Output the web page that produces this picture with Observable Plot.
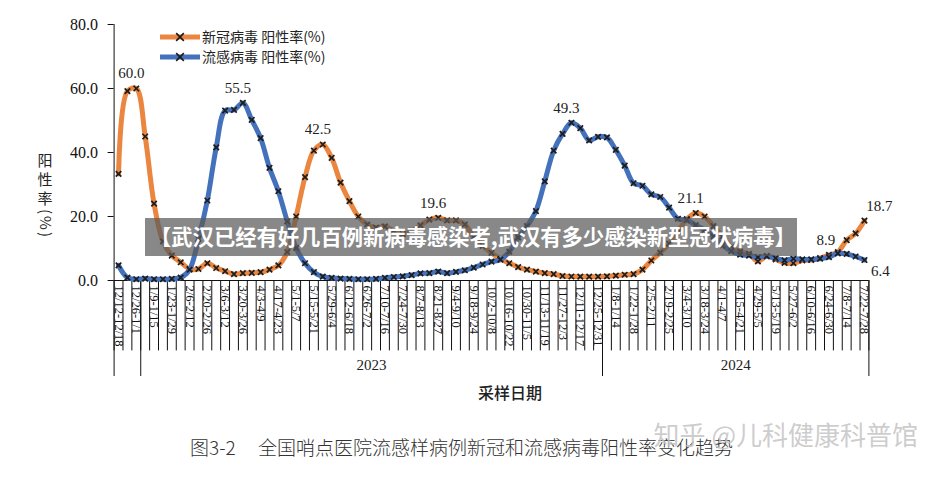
<!DOCTYPE html>
<html>
<head>
<meta charset="utf-8">
<script src="https://cdn.jsdelivr.net/npm/d3@7"></script>
<script src="https://cdn.jsdelivr.net/npm/@observablehq/plot@0.6"></script>
<style>
  body { margin: 0; background: #fff; }
  #chart svg { display: block; }
</style>
</head>
<body>
<div id="chart"></div>
<script>
// Weekly sentinel-hospital positivity (%), 2022-12-12 week through 2024-07-22 week.
const tickLabels = [
  "12/12-12/18", "12/26-1/1", "1/9-1/15", "1/23-1/29", "2/6-2/12", "2/20-2/26",
  "3/6-3/12", "3/20-3/26", "4/3-4/9", "4/17-4/23", "5/1-5/7", "5/15-5/21",
  "5/29-6/4", "6/12-6/18", "6/26-7/2", "7/10-7/16", "7/24-7/30", "8/7-8/13",
  "8/21-8/27", "9/4-9/10", "9/18-9/24", "10/2-10/8", "10/16-10/22", "10/30-11/5",
  "11/13-11/19", "11/27-12/3", "12/11-12/17", "12/25-12/31", "1/8-1/14", "1/22-1/28",
  "2/5-2/11", "2/19-2/25", "3/4-3/10", "3/18-3/24", "4/1-4/7", "4/15-4/21",
  "4/29-5/5", "5/13-5/19", "5/27-6/2", "6/10-6/16", "6/24-6/30", "7/8-7/14", "7/22-7/28"
];

// COVID-19 positivity
const covid = [
  33.3, 59.2, 60.0, 45.0, 24.0, 12.2, 7.8, 5.7, 3.6, 3.6,
  5.4, 3.9, 2.9, 2.0, 2.3, 2.4, 2.6, 3.4, 4.7, 8.9,
  20.0, 32.3, 40.6, 42.5, 38.3, 30.6, 24.8, 20.0, 17.5, 16.5,
  16.9, 15.5, 14.5, 15.5, 17.2, 19.0, 19.6, 18.8, 18.8, 17.5,
  13.5, 10.8, 8.6, 6.8, 5.4, 4.2, 3.4, 2.8, 2.3, 2.0,
  1.4, 1.25, 1.2, 1.2, 1.2, 1.3, 1.5, 1.8, 2.0, 3.4,
  6.25, 8.7, 11.5, 15.3, 19.2, 21.1, 20.0, 17.0, 13.8, 10.4,
  9.0, 8.3, 6.0, 7.6, 6.6, 5.5, 5.4, 6.25, 6.4, 7.0,
  8.0, 8.9, 12.6, 14.7, 18.7
];

// Influenza positivity
const flu = [
  4.7, 0.9, 0.4, 0.6, 0.4, 0.4, 0.5, 0.9, 3.4, 13.0,
  25.0, 41.6, 53.1, 53.3, 55.5, 50.2, 44.5, 35.2, 27.9, 18.5,
  10.2, 5.4, 2.6, 1.2, 0.8, 0.6, 0.5, 0.4, 0.4, 0.5,
  0.8, 1.1, 1.3, 1.7, 2.2, 2.3, 2.8, 2.3, 2.7, 3.2,
  4.0, 5.0, 5.9, 6.5, 9.0, 13.5, 17.0, 21.7, 31.0, 40.6,
  45.8, 49.3, 47.6, 43.8, 44.9, 44.7, 40.8, 35.9, 30.4, 29.6,
  26.9, 26.1, 22.8, 19.3, 18.9, 17.3, 15.8, 13.8, 11.0, 9.2,
  8.1, 7.8, 7.3, 7.6, 7.0, 6.3, 6.8, 6.6, 6.6, 6.8,
  7.3, 8.5, 8.3, 7.5, 6.4
];

// Weeks whose values are printed on the chart
const covidCallouts = [2, 23, 36, 65, 81, 84];
const fluCallouts = [14, 51, 84];

// Year groups on the category axis (first/last week index)
const yearGroups = [
  { year: "", first: 0, last: 2 },
  { year: "2023", first: 3, last: 54 },
  { year: "2024", first: 55, last: 84 }
];

const seriesNames = ["新冠病毒 阳性率(%)", "流感病毒 阳性率(%)"];
const yTicks = [0, 20, 40, 60, 80];

const ORANGE = "#EA863F";
const BLUE = "#4471BB";
const MARK = "#1d1d1d";
const SERIF = "'Liberation Serif', 'Times New Roman', serif";
const SANS = "'Noto Sans CJK SC', 'Noto Sans', sans-serif";

const n = covid.length;
const rows = d3.range(n).map(i => ({ i, covid: covid[i], flu: flu[i] }));
const boundaries = d3.range(n + 1).map(k => k - 0.5);
const yearEdges = [-0.5, ...yearGroups.map(g => g.last + 0.5)];
const ticks = tickLabels.map((label, k) => ({ i: k * 2, label }));
const fmt = d3.format(".1f");

// Printed values sit above-left of their point; the final week's values sit to the right
const callouts = [
  ...covidCallouts.map(i => ({ i, v: covid[i], s: "covid" })),
  ...fluCallouts.map(i => ({ i, v: flu[i], s: "flu" }))
].map(d => ({
  ...d,
  place: d.i === n - 1 ? (d.s === "covid" ? "endAbove" : "endBelow") : d.i === 81 ? "left" : "above"
}));
const placeOffsets = {
  above: { dx: -5, dy: -15 },
  left: { dx: -12, dy: -12 },
  endAbove: { dx: 15, dy: -14 },
  endBelow: { dx: 16, dy: 11 }
};

const calloutMarks = Object.entries(placeOffsets).map(([place, off]) =>
  Plot.text(callouts.filter(d => d.place === place), {
    x: "i", y: "v", text: d => fmt(d.v),
    dx: off.dx, dy: off.dy,
    fontFamily: SERIF, fontSize: 15, fill: "#222"
  })
);

const chart = Plot.plot({
  width: 942,
  height: 477,
  marginLeft: 113.6,
  marginRight: 73.6,
  marginTop: 24,
  marginBottom: 197,
  x: { domain: [-0.5, n - 0.5], axis: null },
  y: { domain: [0, 80], axis: null },
  style: { background: "#fff", overflow: "visible" },
  marks: [
    Plot.axisY({
      ticks: yTicks, tickFormat: fmt, tickSize: 6, tickPadding: 10,
      fontSize: 16, fontFamily: SERIF, color: "#111", stroke: "#111"
    }),
    Plot.ruleX([-0.5], { y1: 0, y2: 80, stroke: "#111" }),
    Plot.ruleY([0], { x1: -0.5, x2: n - 0.5, stroke: "#111" }),
    // week separators below the axis
    Plot.ruleX(boundaries, { y1: 0, y2: -22, stroke: "#111", strokeWidth: 1 }),
    // year separators reach lower
    Plot.ruleX(yearEdges, { y1: 0, y2: -30, stroke: "#111", strokeWidth: 1 }),
    Plot.text(ticks, {
      x: "i", y: 0, text: "label", rotate: 90, textAnchor: "start", lineAnchor: "middle",
      fontFamily: SERIF, fontSize: 12.5, fill: "#111"
    }),
    Plot.text(yearGroups.filter(g => g.year), {
      x: g => (g.first + g.last) / 2, y: -26.5, text: "year",
      fontFamily: SERIF, fontSize: 15, fill: "#222"
    }),
    // series: COVID first, influenza drawn over it
    Plot.line(rows, { x: "i", y: "covid", stroke: ORANGE, strokeWidth: 5, curve: "catmull-rom" }),
    Plot.dot(rows, { x: "i", y: "covid", symbol: "times", r: 2.6, stroke: MARK, strokeWidth: 1.7 }),
    Plot.line(rows, { x: "i", y: "flu", stroke: BLUE, strokeWidth: 5, curve: "catmull-rom" }),
    Plot.dot(rows, { x: "i", y: "flu", symbol: "times", r: 2.6, stroke: MARK, strokeWidth: 1.7 }),
    ...calloutMarks
  ]
});

document.getElementById("chart").appendChild(chart);

// Tick labels: start a few pixels below the axis
d3.select(chart).selectAll("text").filter(function () {
  return tickLabels.includes(this.textContent);
}).attr("x", 5);

const svg = d3.select(chart);

// Legend
const legend = svg.append("g").attr("text-anchor", "start");
[ORANGE, BLUE].forEach((c, k) => {
  const y = 37 + k * 20;
  legend.append("line").attr("x1", 160).attr("x2", 200).attr("y1", y).attr("y2", y)
    .attr("stroke", c).attr("stroke-width", 5);
  legend.append("path").attr("d", d3.symbol(d3.symbolTimes, 40)())
    .attr("transform", `translate(180,${y})`).attr("stroke", MARK).attr("stroke-width", 1.7).attr("fill", "none");
  legend.append("text").attr("x", 202).attr("y", y).attr("dy", "0.35em")
    .attr("font-family", SANS).attr("font-size", 14).attr("fill", "#222").text(seriesNames[k]);
});

// Vertical y-axis title: stacked characters, then the unit turned sideways
const yTitle = svg.append("g").attr("font-family", SANS).attr("font-size", 15).attr("fill", "#222")
  .attr("text-anchor", "middle");
["阳", "性", "率"].forEach((ch, k) => {
  yTitle.append("text").attr("x", 45).attr("y", 161 + k * 19).attr("dy", "0.35em").text(ch);
});
yTitle.append("text").attr("transform", "translate(45,224) rotate(90)")
  .attr("dy", "0.35em").attr("letter-spacing", 2).text("(%)");

// x-axis title
svg.append("text").attr("x", 510).attr("y", 393).attr("dy", "0.35em").attr("text-anchor", "middle")
  .attr("font-family", SANS).attr("font-size", 16).attr("font-weight", 500).attr("fill", "#222")
  .text("采样日期");

// Figure caption
const caption = svg.append("g").attr("text-anchor", "start")
  .attr("font-family", SANS).attr("font-size", 19).attr("font-weight", 300).attr("fill", "#333");
caption.append("text").attr("x", 190).attr("y", 448).attr("dy", "0.35em").text("图3-2");
caption.append("text").attr("x", 258).attr("y", 448).attr("dy", "0.35em")
  .text("全国哨点医院流感样病例新冠和流感病毒阳性率变化趋势");

// Watermark
svg.append("text").attr("x", 918).attr("y", 436).attr("dy", "0.35em").attr("text-anchor", "end")
  .attr("font-family", SANS).attr("font-size", 26).attr("fill", "#c4c4c4").attr("fill-opacity", 0.85)
  .text("知乎 @儿科健康科普馆");

// Headline banner across the plot
const banner = svg.append("g");
banner.append("rect").attr("x", 145).attr("y", 218).attr("width", 652).attr("height", 38)
  .attr("fill", "#5a5a5a").attr("fill-opacity", 0.72);
banner.append("text").attr("x", 150).attr("y", 237).attr("dy", "0.36em").attr("text-anchor", "start")
  .attr("font-family", SANS).attr("font-size", 21.3).attr("font-weight", 700).attr("fill", "#fff")
  .text("【武汉已经有好几百例新病毒感染者,武汉有多少感染新型冠状病毒】");
</script>
</body>
</html>
